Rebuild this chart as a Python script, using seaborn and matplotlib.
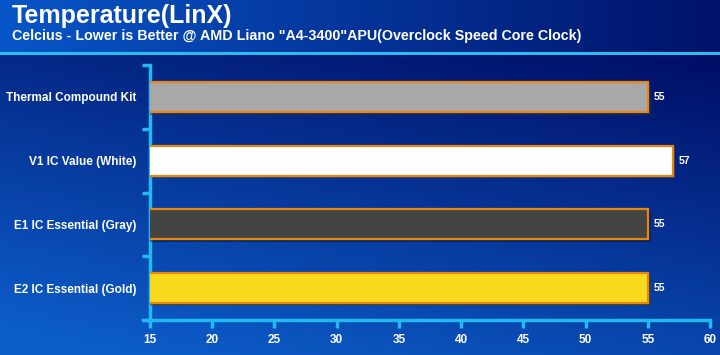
import numpy as np
import pandas as pd
import seaborn as sns
import matplotlib.pyplot as plt
import matplotlib.patheffects as pe

# ==================== DATA ====================
categories = ["Thermal Compound Kit", "V1 IC Value (White)",
              "E1 IC Essential (Gray)", "E2 IC Essential (Gold)"]
temps = [55, 57, 55, 55]
bar_colors = ["#A8A8A8", "#FFFFFF", "#444444", "#F7DA1C"]
x_ticks = [15, 20, 25, 30, 35, 40, 45, 50, 55, 60]

TITLE = "Temperature(LinX)"
SUBTITLE = 'Celcius - Lower is Better @ AMD Liano "A4-3400"APU(Overclock Speed Core Clock)'

AXIS_COLOR = "#22B8F0"

df = pd.DataFrame({"name": categories, "temp": temps})

# ==================== FIGURE ====================
sns.set_style("white")
plt.rcParams["font.family"] = ["Liberation Sans", "DejaVu Sans"]

fig = plt.figure(figsize=(7.2, 3.55), dpi=100)

# background: header band + gradient body
bg = fig.add_axes([0, 0, 1, 1], zorder=-5)
bg.set_axis_off()
H, W = 355, 720
yy, xx = np.mgrid[0:H, 0:W]
top = np.array([0, 12, 100]) / 255.0
bot = np.array([12, 92, 200]) / 255.0
t = np.clip((yy / H) * 0.85 + (1 - xx / W) * 0.35 - 0.12, 0, 1)[..., None]
img = top * (1 - t) + bot * t
# header
hx = (xx / W)[..., None]
head = np.array([8, 86, 200]) / 255.0 * (1 - hx) + np.array([0, 18, 105]) / 255.0 * hx
img = np.where((yy < 52)[..., None], head, img)
img[52:55, :, :] = np.array([40, 190, 240]) / 255.0
bg.imshow(img, aspect="auto", extent=[0, 1, 0, 1], origin="upper")

fig.text(0.016, 0.99, TITLE, color="white", fontsize=18, fontweight="bold",
         va="top", ha="left")
fig.text(0.016, 0.918, SUBTITLE, color="white", fontsize=10.3, fontweight="bold",
         va="top", ha="left")

# ==================== BARS ====================
ax = fig.add_axes([150 / 720, 1 - 320 / 355, 560 / 720, 255 / 355])
ax.patch.set_alpha(0)
sns.barplot(data=df, x="temp", y="name", hue="name", palette=bar_colors,
            orient="h", width=0.47, legend=False, ax=ax, saturation=1,
            edgecolor="#E8860E", linewidth=1.6)
for bar in ax.patches:
    bar.set_path_effects([pe.SimplePatchShadow(offset=(2, -2), alpha=0.5),
                          pe.Normal()])
    bar.set_zorder(3)

for i, v in enumerate(temps):
    ax.text(v + 0.45, i, str(v), color="white", fontsize=7.5, fontweight="bold",
            va="center", ha="left")

ax.set_xlim(15, 60)
ax.set_ylim(3.5, -0.5)
ax.set_xticks(x_ticks)
ax.set_xlabel("")
ax.set_ylabel("")

for s in ["top", "right"]:
    ax.spines[s].set_visible(False)
for s in ["left", "bottom"]:
    ax.spines[s].set_color(AXIS_COLOR)
    ax.spines[s].set_linewidth(2.5)
ax.spines["bottom"].set_bounds(14.4, 60)

ax.tick_params(axis="x", colors=AXIS_COLOR, length=6, width=2.5, direction="out",
               labelcolor="white", labelsize=8.5, pad=4, bottom=True)
ax.tick_params(axis="y", which="major", length=0, labelcolor="white",
               labelsize=8.5, pad=10)
ax.set_yticks(np.arange(-0.5, 4.0, 1.0), minor=True)
ax.tick_params(axis="y", which="minor", colors=AXIS_COLOR, length=6, width=2.5,
               direction="out", left=True)
for lbl in ax.get_xticklabels() + ax.get_yticklabels():
    lbl.set_fontweight("bold")

plt.savefig("out.png", dpi=100)
plt.close()
